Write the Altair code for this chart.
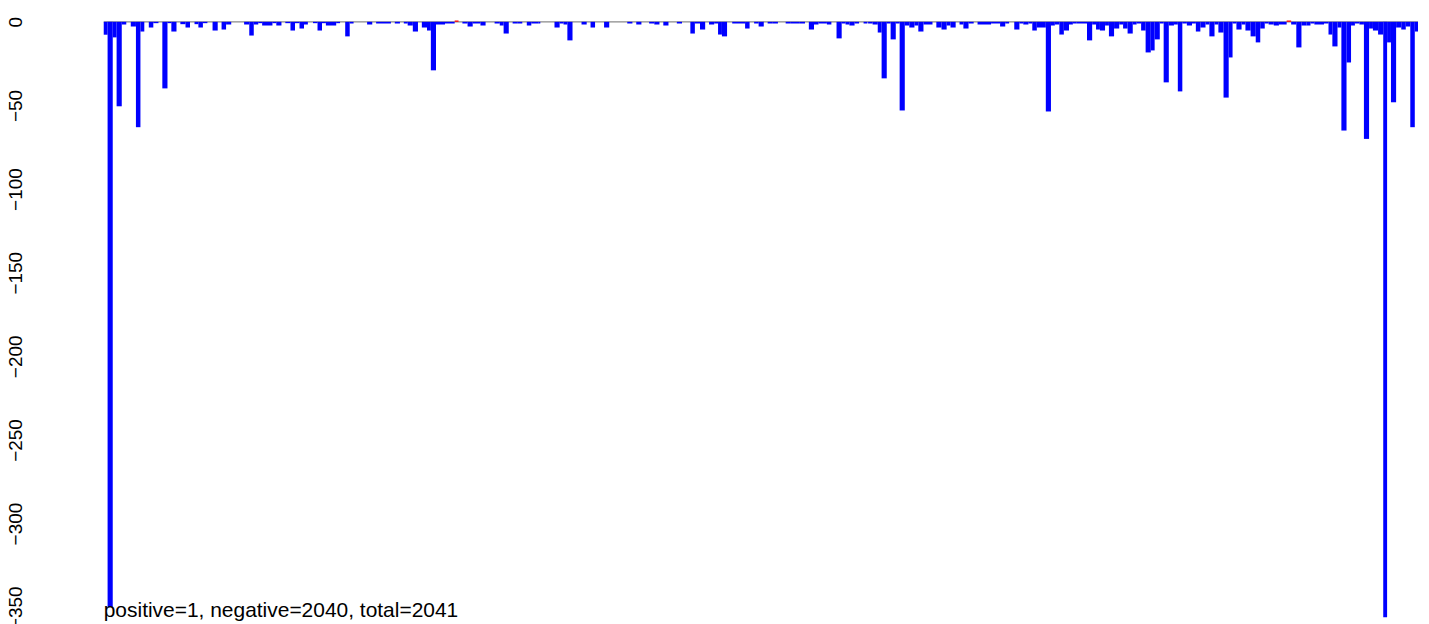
import altair as alt
import pandas as pd

# run-length segments: bar index range [start, end) and bar value
seg_start = [0, 6, 14, 20, 28, 42, 50, 57, 70, 77, 91, 99, 105, 119, 127, 141, 147, 154, 169, 183, 190,
             218, 226, 233, 240, 246, 262, 268, 282, 290, 297, 304, 311, 325, 332, 339, 345, 361,
             375, 382, 409, 423, 452, 466, 472, 480, 494, 502, 508, 516, 530, 545, 557, 565, 573, 585,
             607, 615, 621, 635, 643, 657, 664, 675, 700, 708, 714, 720, 742, 756, 777, 813, 827,
             847, 855, 869, 890, 911, 918, 926, 940, 948, 954, 960, 976, 996, 1010,
             1017, 1031, 1039, 1059, 1067, 1081, 1095, 1103, 1110, 1117, 1123, 1138, 1146, 1152, 1158, 1166, 1180,
             1187, 1194, 1202, 1208, 1216, 1222, 1230, 1236, 1244, 1251, 1259, 1265, 1273, 1293, 1301, 1309, 1315,
             1329, 1335, 1343, 1357, 1378, 1392, 1400, 1414, 1422, 1428, 1436, 1442, 1449, 1463, 1471, 1477,
             1484, 1491, 1499, 1505, 1511, 1527, 1535, 1541, 1547, 1555, 1561, 1569, 1577, 1583, 1590, 1598,
             1604, 1611, 1618, 1626, 1632, 1640, 1646, 1654, 1662, 1668, 1675, 1682, 1690, 1696, 1703, 1711,
             1717, 1725, 1731, 1739, 1747, 1753, 1759, 1767, 1773, 1781, 1789, 1796, 1803, 1809, 1817, 1825,
             1837, 1844, 1852, 1860, 1868, 1874, 1880, 1895, 1902, 1908, 1916, 1922, 1930, 1937, 1943, 1950,
             1957, 1965, 1971, 1979, 1987, 1993, 1999, 2007, 2015, 2022, 2029, 2036]
seg_end = [6, 14, 20, 28, 35, 50, 57, 63, 77, 85, 99, 105, 113, 127, 134, 147, 154, 161, 177, 190, 198,
           226, 233, 240, 246, 262, 268, 276, 290, 297, 304, 311, 317, 332, 339, 345, 361, 367,
           382, 388, 417, 446, 460, 472, 480, 488, 502, 508, 516, 530, 545, 551, 565, 573, 585, 593,
           615, 621, 629, 643, 650, 664, 675, 678, 708, 714, 720, 728, 750, 763, 785, 821, 835,
           855, 863, 877, 898, 918, 926, 934, 948, 954, 960, 968, 996, 1003, 1017,
           1025, 1039, 1047, 1067, 1081, 1089, 1103, 1110, 1117, 1123, 1130, 1146, 1152, 1158, 1166, 1173, 1186,
           1194, 1202, 1208, 1216, 1222, 1230, 1236, 1244, 1251, 1259, 1265, 1273, 1287, 1301, 1309, 1315, 1323,
           1335, 1343, 1351, 1378, 1392, 1400, 1406, 1422, 1428, 1436, 1442, 1449, 1463, 1471, 1477, 1484,
           1491, 1499, 1505, 1511, 1527, 1535, 1541, 1547, 1555, 1561, 1569, 1577, 1583, 1590, 1598, 1604,
           1611, 1618, 1626, 1632, 1640, 1646, 1654, 1662, 1668, 1675, 1682, 1690, 1696, 1703, 1711, 1717,
           1725, 1731, 1739, 1747, 1753, 1759, 1767, 1773, 1781, 1789, 1796, 1803, 1809, 1817, 1825, 1837,
           1844, 1852, 1860, 1868, 1874, 1880, 1895, 1902, 1908, 1916, 1922, 1930, 1937, 1943, 1950, 1957,
           1965, 1971, 1979, 1987, 1993, 1999, 2007, 2015, 2022, 2029, 2036, 2041]
seg_value = [-7.7, -350, -9.3, -50.5, -1.6, -2.8, -63, -5.8, -3.4, -0.8, -39.8, -0.8, -5.8, -1.4, -3.4, -1.4, -3.4, -0.8, -5.2, -4.6, -1.6,
             -1.6, -8.2, -1.6, -0.8, -2.2, -0.8, -2.2, -0.8, -5.2, -0.8, -4.0, -1.6, -0.8, -5.2, -0.8, -2.2, -0.8,
             -8.7, -1.0, -1.6, -1.0, -1.0, -1.0, -2.2, -5.8, -3.4, -5.2, -29.0, -1.6, -1.0, 0.8, -1.0, -2.8, -1.0, -2.2,
             -1.0, -2.2, -7.0, -1.0, -1.0, -2.2, -1.0, -1.0, -3.4, -1.0, -1.6, -11.1, -1.6, -3.4, -3.4, -1.0, -1.6,
             -1.0, -1.6, -2.2, -1.0, -7.0, -1.0, -4.6, -1.6, -1.0, -7.6, -8.7, -1.0, -4.0, -1.0,
             -2.8, -1.0, -1.0, -1.0, -1.0, -1.0, -4.6, -1.6, -1.0, -1.0, -1.6, -9.9, -1.0, -1.6, -2.2, -1.0, -1.0,
             -1.0, -1.6, -6.4, -33.8, -1.0, -10.5, -1.0, -53, -2.2, -3.4, -2.2, -5.8, -1.6, -3.4, -4.6, -2.2, -3.4,
             -1.6, -4.0, -1.0, -1.6, -1.0, -2.8, -1.0, -4.6, -1.0, -1.6, -1.0, -5.2, -3.4, -53.6, -2.2, -1.6,
             -7.6, -5.2, -1.6, -1.0, -1.0, -11.1, -1.6, -4.6, -5.2, -2.2, -8.7, -4.0, -1.6, -4.0, -7.0, -1.6,
             -1.0, -5.2, -18.3, -17.1, -10.5, -1.0, -36.2, -2.2, -1.6, -41.6, -1.0, -2.2, -1.0, -5.8, -3.4, -1.6,
             -8.7, -1.6, -6.4, -45.3, -21.3, -1.0, -4.6, -1.6, -5.2, -8.7, -12.3, -4.0, -1.0, -1.6, -2.2, -1.6,
             0.8, -1.6, -15.3, -2.2, -2.2, -1.0, -1.6, -1.0, -7.6, -14.7, -3.4, -65, -24.3, -2.2, -1.0, -1.6,
             -70, -4.0, -5.2, -7.6, -356, -12.3, -48.1, -3.4, -4.6, -2.8, -63, -5.8]

n_total = 2041
y_ticks = [0, -50, -100, -150, -200, -250, -300, -350]
note = "positive=1, negative=2040, total=2041"

df = pd.DataFrame({"start": seg_start, "end": seg_end, "value": seg_value})
df["sign"] = ["pos" if v > 0 else "neg" for v in df["value"]]

xs = alt.Scale(domain=[0, n_total], nice=False, zero=False)
ys = alt.Scale(domain=[-350, 0], nice=False, zero=False)

base_line = alt.Chart(pd.DataFrame({"a": [0], "b": [n_total], "y": [0]})).mark_rule(
    color="#8a8a8a", strokeWidth=1.2
).encode(
    x=alt.X("a:Q", scale=xs, axis=None),
    x2="b:Q",
    y=alt.Y("y:Q", scale=ys),
)

bars = alt.Chart(df).mark_rect(clip=False).encode(
    x=alt.X("start:Q", scale=xs, axis=None),
    x2="end:Q",
    y=alt.Y("value:Q", scale=ys,
            axis=alt.Axis(values=y_ticks, title=None, grid=False, domain=False, ticks=False,
                          labelAngle=270, labelAlign="center", labelBaseline="middle",
                          labelPadding=88, labelFontSize=19, labelFont="Liberation Sans",
                          labelColor="black", labelOverlap=False, labelFlush=False,
                          labelExpr="replace(format(datum.value, 'd'), '-', '\u2212')")),
    y2=alt.datum(0),
    color=alt.Color("sign:N", scale=alt.Scale(domain=["neg", "pos"], range=["#0000ff", "#ff0000"]), legend=None),
)

label = alt.Chart(pd.DataFrame({"x": [0], "y": [-350], "t": [note]})).mark_text(
    align="left", baseline="middle", fontSize=21, font="Liberation Sans", color="black", dy=4
).encode(
    x=alt.X("x:Q", scale=xs, axis=None),
    y=alt.Y("y:Q", scale=ys),
    text="t:N",
)

chart = alt.layer(base_line, bars, label).properties(
    width=1318, height=587,
    padding={"left": 96, "top": 13, "right": 3, "bottom": 16},
    autosize=alt.AutoSizeParams(type="none"),
).configure_view(stroke=None)

chart.save("out.html", embed_options={"renderer": "svg", "actions": False})
